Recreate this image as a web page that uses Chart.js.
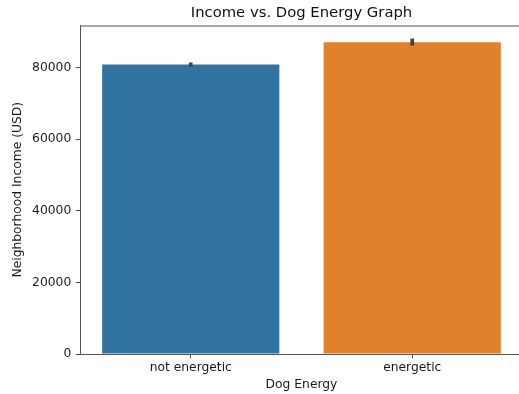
<!DOCTYPE html>
<html>
<head>
<meta charset="utf-8">
<title>Income vs. Dog Energy Graph</title>
<script src="https://cdn.jsdelivr.net/npm/chart.js@4.4.1/dist/chart.umd.min.js"></script>
<style>
  html, body { margin: 0; padding: 0; background: #fff; overflow: hidden; }
  /* the plot area runs a few pixels past the right edge of the frame */
  #wrap { width: 519px; height: 394px; overflow: hidden; }
</style>
</head>
<body>
<div id="wrap"><canvas id="incomeChart" width="524" height="394"></canvas></div>
<script>
// Mean neighborhood income per dog energy group, with confidence interval
const categories = ['not energetic', 'energetic'];
const meanIncome = [80900, 87150];
const ciLow = [80350, 86300];
const ciHigh = [81350, 88050];
const barColors = ['#3274a1', '#e1812c'];
const yTicks = [0, 20000, 40000, 60000, 80000];
const yMax = 91800;
const chartTitle = 'Income vs. Dog Energy Graph';

const FONT = 'DejaVu Sans';
const AXIS = '#555555';
const TEXT = '#1a1a1a';

// Top spine plus a title centred over the plot area (not the whole canvas)
const frame = {
  id: 'frame',
  afterDraw(chart) {
    const { ctx, chartArea: a } = chart;
    ctx.save();
    ctx.strokeStyle = AXIS;
    ctx.lineWidth = 1;
    ctx.beginPath();
    ctx.moveTo(a.left, a.top + 0.5);
    ctx.lineTo(a.right - 0.5, a.top + 0.5);
    ctx.lineTo(a.right - 0.5, a.bottom);
    ctx.stroke();

    ctx.fillStyle = '#111';
    ctx.font = `14.8px "${FONT}"`;
    ctx.textAlign = 'center';
    ctx.textBaseline = 'middle';
    ctx.fillText(chartTitle, (a.left + a.right) / 2, 13);
    ctx.restore();
  }
};

new Chart(document.getElementById('incomeChart'), {
  type: 'bar',
  data: {
    labels: categories,
    datasets: [
      {
        // error bars as thin floating bars
        data: categories.map((_, i) => [ciLow[i], ciHigh[i]]),
        backgroundColor: '#424242',
        barThickness: 3,
        grouped: false,
        order: 0
      },
      {
        data: meanIncome,
        backgroundColor: barColors,
        categoryPercentage: 0.8,
        barPercentage: 1.0,
        grouped: false,
        order: 1
      }
    ]
  },
  options: {
    responsive: false,
    animation: false,
    layout: { padding: { top: 25.5, right: 1, bottom: 0, left: 0 } },
    plugins: {
      legend: { display: false },
      tooltip: { enabled: false },
      title: { display: false }
    },
    scales: {
      x: {
        grid: { display: true, offset: false, drawOnChartArea: false, tickLength: 4.3, tickColor: AXIS, tickWidth: 1 },
        border: { color: AXIS, width: 1 },
        ticks: { color: TEXT, padding: 2.3, font: { family: FONT, size: 12.3 } },
        title: {
          display: true,
          text: 'Dog Energy',
          color: TEXT,
          font: { family: FONT, size: 12.3 },
          padding: { top: 0, bottom: 1.6 }
        },
        afterFit(scale) { scale.height = 40; }
      },
      y: {
        min: 0,
        max: yMax,
        grid: { display: true, drawOnChartArea: false, tickLength: 4.3, tickColor: AXIS, tickWidth: 1 },
        border: { color: AXIS, width: 1 },
        ticks: {
          color: TEXT,
          padding: 4.5,
          font: { family: FONT, size: 12.3 },
          callback: v => String(v)
        },
        afterBuildTicks(scale) { scale.ticks = yTicks.map(v => ({ value: v })); },
        title: {
          display: true,
          text: 'Neighborhood Income (USD)',
          color: TEXT,
          font: { family: FONT, size: 12.3 },
          padding: { top: 10.6, bottom: 0 }
        },
        afterFit(scale) { scale.width = 80; }
      }
    }
  },
  plugins: [frame]
});
</script>
</body>
</html>
